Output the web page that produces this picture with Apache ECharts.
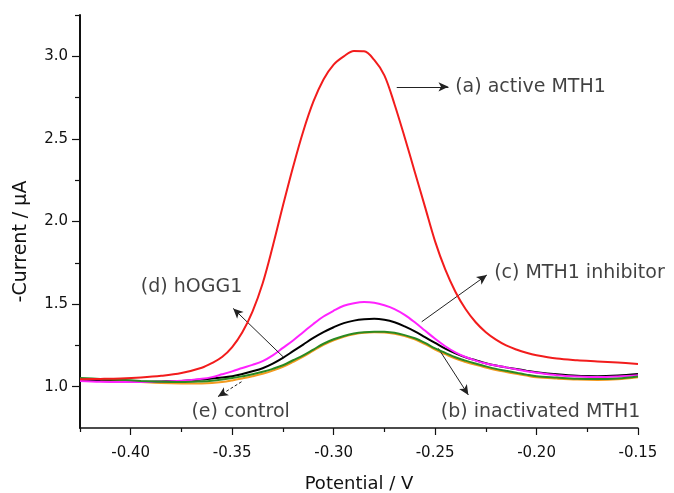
<!DOCTYPE html>
<html><head><meta charset="utf-8">
<script src="https://cdn.jsdelivr.net/npm/echarts@6/dist/echarts.min.js"></script>
<style>html,body{margin:0;padding:0;background:#fff}#c{width:674px;height:493px}</style>
</head><body><div id="c"></div>
<script>
// Potential (V)
const potential = [-0.425,-0.415,-0.405,-0.395,-0.385,-0.375,-0.365,-0.36,-0.355,-0.35,-0.345,-0.34,-0.335,-0.33,-0.325,-0.32,-0.315,-0.31,-0.305,-0.30,-0.295,-0.29,-0.285,-0.28,-0.275,-0.27,-0.265,-0.26,-0.255,-0.25,-0.245,-0.24,-0.235,-0.23,-0.225,-0.22,-0.215,-0.21,-0.205,-0.20,-0.19,-0.18,-0.17,-0.16,-0.15];
// (a) active MTH1
const activeMTH1 = [1.045,1.047,1.05,1.056,1.066,1.083,1.115,1.143,1.18,1.24,1.33,1.455,1.625,1.85,2.095,2.33,2.545,2.725,2.86,2.95,3.0,3.032,3.03,2.978,2.885,2.71,2.51,2.30,2.09,1.88,1.71,1.575,1.47,1.39,1.33,1.285,1.25,1.225,1.205,1.19,1.17,1.16,1.153,1.146,1.138];
// (c) MTH1 inhibitor
const mth1Inhibitor = [1.035,1.03,1.028,1.028,1.03,1.036,1.048,1.058,1.075,1.093,1.113,1.132,1.155,1.19,1.235,1.28,1.33,1.38,1.425,1.46,1.49,1.505,1.512,1.508,1.493,1.47,1.435,1.39,1.34,1.29,1.245,1.208,1.18,1.158,1.141,1.128,1.117,1.105,1.094,1.085,1.07,1.062,1.058,1.062,1.07];
// (d) hOGG1
const hOGG1 = [1.04,1.035,1.032,1.03,1.032,1.035,1.043,1.05,1.055,1.063,1.077,1.093,1.112,1.14,1.175,1.215,1.255,1.295,1.33,1.36,1.385,1.40,1.408,1.411,1.405,1.39,1.365,1.335,1.30,1.265,1.23,1.202,1.178,1.16,1.142,1.128,1.117,1.107,1.097,1.088,1.075,1.066,1.064,1.068,1.077];
// (b) inactivated MTH1
const inactivatedMTH1 = [1.052,1.047,1.042,1.035,1.03,1.028,1.032,1.036,1.043,1.052,1.063,1.075,1.09,1.108,1.13,1.16,1.19,1.225,1.26,1.287,1.307,1.322,1.33,1.333,1.332,1.326,1.312,1.293,1.265,1.232,1.205,1.178,1.158,1.14,1.123,1.108,1.096,1.085,1.073,1.063,1.055,1.048,1.046,1.05,1.062];
// (e) control
const control = [1.045,1.04,1.035,1.028,1.022,1.02,1.02,1.022,1.028,1.038,1.05,1.063,1.078,1.097,1.12,1.15,1.182,1.218,1.253,1.281,1.302,1.317,1.326,1.329,1.328,1.321,1.307,1.287,1.258,1.225,1.197,1.17,1.15,1.132,1.116,1.101,1.089,1.078,1.067,1.057,1.049,1.043,1.041,1.045,1.057];

// Tick labels
const xTickLabels = [-0.40,-0.35,-0.30,-0.25,-0.20,-0.15];
const xMinorTicks = [-0.425,-0.375,-0.325,-0.275,-0.225,-0.175];
const yTickLabels = [1.0,1.5,2.0,2.5,3.0];
const yMinorTicks = [1.25,1.75,2.25,2.75,3.25];

// Annotations (data units)
const noteTexts = ['(a) active MTH1','(c) MTH1 inhibitor','(d) hOGG1','(e) control','(b) inactivated MTH1'];
const noteX = [-0.2401,-0.2209,-0.395,-0.3701,-0.2472];
const noteY = [2.811,1.688,1.601,0.849,0.849];
const arrowFromX = [-0.2689,-0.2566,-0.3249,-0.3454,-0.2484];
const arrowFromY = [2.815,1.393,1.181,1.03,1.232];
const arrowToX = [-0.2434,-0.2245,-0.3495,-0.357,-0.2336];
const arrowToY = [2.815,1.676,1.474,0.94,0.95];
const arrowDashed = [false,false,false,true,false];

const FONT = 'DejaVu Sans';
const TXT = '#111';
const pts = arr => potential.map((x,i)=>[x, arr[i]]);
const line = (name, arr, color, z) => ({
  name, type:'line', data: pts(arr), smooth:0.35, showSymbol:false, symbol:'none',
  lineStyle:{color, width:2}, itemStyle:{color}, z, silent:true, animation:false
});

const chart = echarts.init(document.getElementById('c'));
chart.setOption({
  animation:false,
  backgroundColor:'#fff',
  textStyle:{fontFamily:FONT},
  grid:{left:80, right:36, top:15, bottom:65, containLabel:false, outerBoundsMode:'none'},
  xAxis:[{
    type:'value', min:-0.425, max:-0.15, interval:0.025,
    name:'Potential / V', nameLocation:'middle', nameGap:47,
    nameTextStyle:{fontFamily:FONT, fontSize:18, color:TXT},
    axisLine:{onZero:false, lineStyle:{color:'#111', width:1.5}},
    axisTick:{customValues:xTickLabels, length:7, lineStyle:{color:'#111', width:1.2}},
    axisLabel:{customValues:xTickLabels, formatter:v=>v.toFixed(2), fontFamily:FONT, fontSize:15, color:TXT, margin:18},
    splitLine:{show:false}
  },{
    type:'value', min:-0.425, max:-0.15, position:'bottom', offset:0,
    axisLine:{show:false},
    axisTick:{customValues:xMinorTicks, length:4, lineStyle:{color:'#111', width:1.2}},
    axisLabel:{show:false}, splitLine:{show:false}
  }],
  yAxis:[{
    type:'value', min:0.75, max:3.25, interval:0.25,
    name:'-Current / μA', nameLocation:'middle', nameGap:49,
    nameTextStyle:{fontFamily:FONT, fontSize:19, color:TXT, padding:[0,40,0,0]},
    axisLine:{onZero:false, lineStyle:{color:'#111', width:2}},
    axisTick:{customValues:yTickLabels, length:8, lineStyle:{color:'#111', width:1.2}},
    axisLabel:{customValues:yTickLabels, formatter:v=>v.toFixed(1), fontFamily:FONT, fontSize:15, color:TXT, margin:12},
    splitLine:{show:false}
  },{
    type:'value', min:0.75, max:3.25, position:'left', offset:0,
    axisLine:{show:false},
    axisTick:{customValues:yMinorTicks, length:5, lineStyle:{color:'#111', width:1.2}},
    axisLabel:{show:false}, splitLine:{show:false}
  }],
  series:[
    line('(e) control', control, '#f39a1e', 2),
    line('(d) hOGG1', hOGG1, '#000000', 3),
    line('(c) MTH1 inhibitor', mth1Inhibitor, '#ff22ff', 4),
    line('(b) inactivated MTH1', inactivatedMTH1, '#2a8a22', 5),
    line('(a) active MTH1', activeMTH1, '#f21c1c', 6),
    {
      type:'scatter', name:'notes', silent:true, z:10, animation:false,
      symbolSize:0,
      data: noteTexts.map((t,i)=>({name:t, value:[noteX[i], noteY[i]]})),
      label:{show:true, position:'right', distance:0, formatter:p=>p.name,
        fontFamily:FONT, fontSize:19, color:TXT},
      markLine:{
        silent:true, animation:false, symbol:['none','arrow'], symbolSize:[7,10],
        label:{show:false},
        lineStyle:{color:'#222', width:1, type:'solid'},
        data: arrowFromX.map((x,i)=>[
          {coord:[x, arrowFromY[i]], lineStyle:{type: arrowDashed[i]?[3,2]:'solid', color:'#222', width:1}},
          {coord:[arrowToX[i], arrowToY[i]]}
        ])
      }
    }
  ]
});
</script>
</body></html>
